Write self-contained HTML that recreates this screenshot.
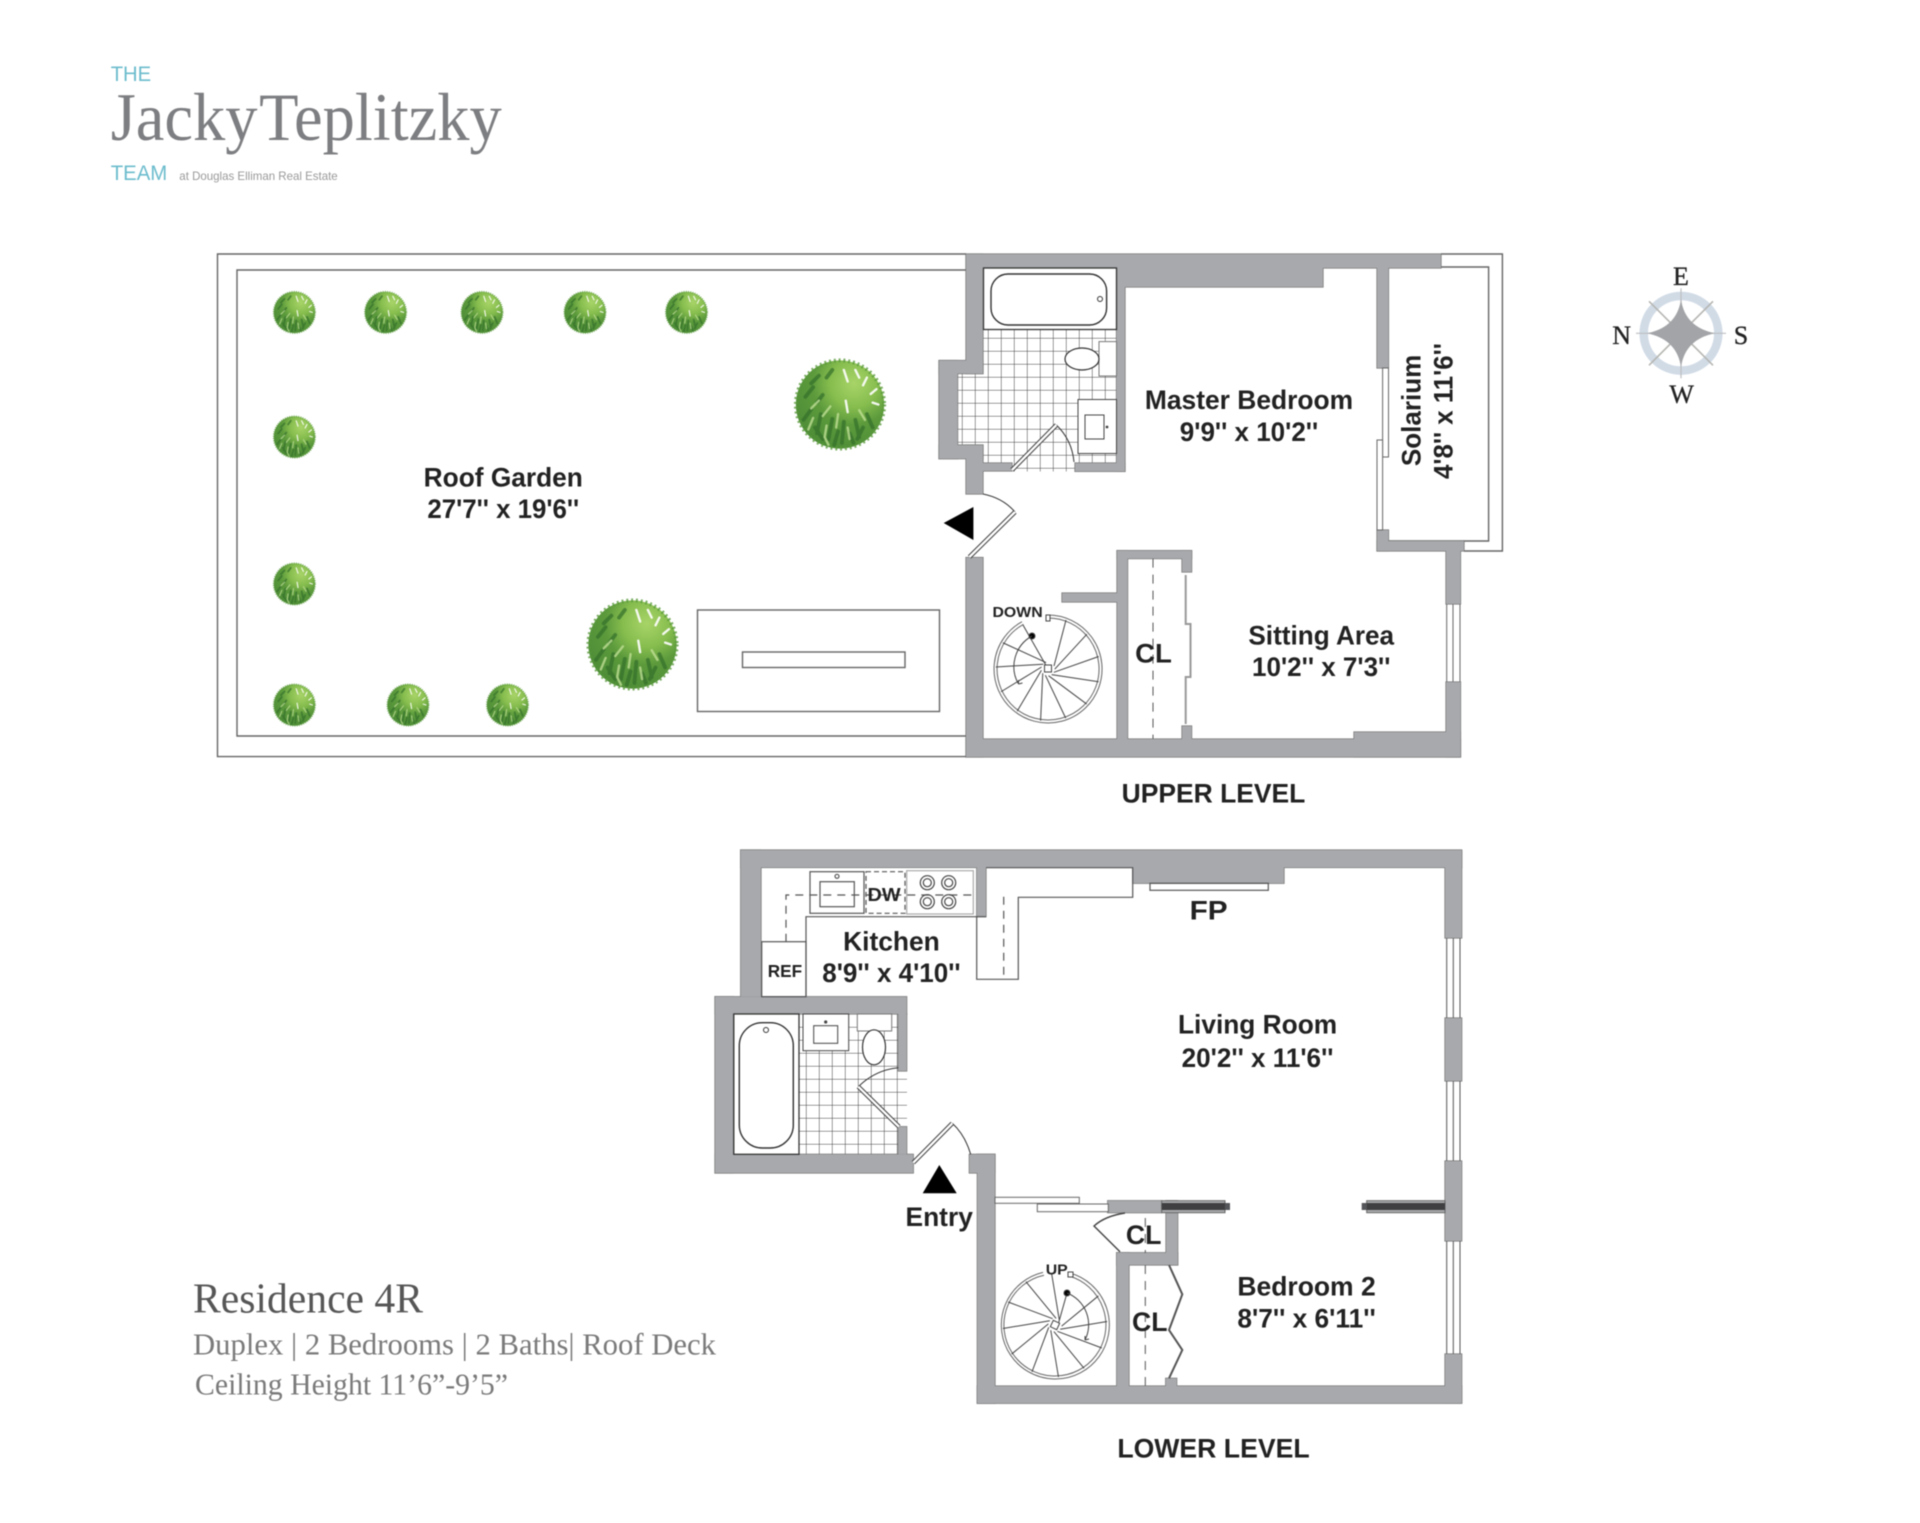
<!DOCTYPE html>
<html lang="en"><head><meta charset="utf-8"><title>Residence 4R Floor Plan</title>
<style>
html,body{margin:0;padding:0;background:#fff}
svg{display:block;filter:blur(.45px)}
.t{font-family:"Liberation Sans",Arial,sans-serif;font-weight:bold;fill:#222;text-anchor:middle}
.s{font-family:"Liberation Serif",serif}
</style></head><body>
<svg xmlns="http://www.w3.org/2000/svg" width="1920" height="1523" viewBox="0 0 1920 1523">
<defs>
<radialGradient id="tg" cx="0.66" cy="0.26" r="0.85">
<stop offset="0" stop-color="#a8d468"/><stop offset="0.32" stop-color="#86bd4e"/><stop offset="0.55" stop-color="#5c9a3c"/><stop offset="1" stop-color="#4a8a35"/>
</radialGradient>
<pattern id="tile" width="13" height="13" patternUnits="userSpaceOnUse">
<path d="M0 0H13M0 0V13" stroke="#444" stroke-width="1.05" fill="none"/>
</pattern>
<g id="tree">
<circle r="46" fill="url(#tg)"/>
<circle r="46" fill="none" stroke="#5a9a3c" stroke-width="4" stroke-dasharray="2 3" opacity=".8"/>
<g stroke="#34702b" stroke-width="4" stroke-linecap="round" opacity=".7">
<path d="M-30 5L-38 16M-20 10L-24 30M-8 15L-12 36M4 18L2 40M16 16L20 34M28 10L34 24M-36 -8L-28 -18M-30 -22L-22 -30M-18 -10L-24 -2M-26 24L-18 36M10 30L14 40M-2 28L-6 42M24 24L18 36M-14 -28L-8 -36"/>
</g>
<g stroke="#c5e39a" stroke-width="2.5" stroke-linecap="round" opacity=".75">
<path d="M-28 14L-33 26M-14 22L-16 34M-2 10L-4 24M8 24L10 36M20 6L26 16M-22 -4L-30 4M-10 2L-18 12M-16 34L-12 42"/>
</g>
<g stroke="#fff" stroke-width="2.5" stroke-linecap="round" opacity=".9">
<path d="M4 -36L8 -24M16 -36L20 -28M28 -28L24 -20M38 -16L32 -11M40 0L34 -2M6 -4L8 8"/>
</g>
</g>
<g id="w1">
<rect x="966" y="254" width="475" height="14"/>
<rect x="1116.5" y="268" width="206.5" height="19"/>
<rect x="966" y="254" width="17" height="119.6"/>
<rect x="939" y="360.5" width="44" height="13.1"/>
<rect x="939" y="360.5" width="18.6" height="98.2"/>
<rect x="939" y="445" width="44" height="13.7"/>
<rect x="966" y="445" width="17" height="49"/>
<rect x="966" y="557.5" width="17" height="199.5"/>
<rect x="966" y="739" width="494.5" height="18"/>
<rect x="1354" y="732" width="106.5" height="25"/>
<rect x="1446" y="551" width="14.5" height="53"/>
<rect x="1446" y="682" width="14.5" height="75"/>
<rect x="1377" y="268" width="11.5" height="100"/>
<rect x="1377" y="530" width="11.5" height="21"/>
<rect x="1377" y="541" width="87" height="10"/>
<rect x="1116.5" y="287" width="8.5" height="184.4"/>
<rect x="1075" y="463" width="50" height="8.4"/>
<rect x="983" y="463" width="29" height="8"/>
<rect x="1117" y="550.6" width="10.6" height="188.4"/>
<rect x="1117" y="550.6" width="74.6" height="8"/>
<rect x="1182" y="550.6" width="9.6" height="21.4"/>
<rect x="1182" y="726" width="9.6" height="13"/>
<rect x="1062" y="593" width="55" height="9"/>
</g>
<g id="w2">
<rect x="740.7" y="850" width="721" height="17.5"/>
<rect x="740.7" y="850" width="20.3" height="146.7"/>
<rect x="1132.7" y="867" width="151.3" height="16.3"/>
<rect x="976.7" y="867" width="9.3" height="49.7"/>
<rect x="715" y="996.7" width="191.7" height="17.3"/>
<rect x="715" y="996.7" width="18.3" height="176.3"/>
<rect x="715" y="1154.3" width="198.3" height="18.7"/>
<rect x="898.3" y="1014" width="8.4" height="57"/>
<rect x="898.3" y="1126.7" width="8.4" height="27.6"/>
<rect x="969.3" y="1154.3" width="25.7" height="18.7"/>
<rect x="977.3" y="1154.3" width="17.7" height="249"/>
<rect x="977.3" y="1386" width="484.4" height="17.3"/>
<rect x="1445" y="851" width="16.7" height="87"/>
<rect x="1445" y="1018" width="16.7" height="63"/>
<rect x="1445" y="1161" width="16.7" height="80"/>
<rect x="1445" y="1354" width="16.7" height="49"/>
<rect x="1107.7" y="1200.7" width="54" height="12"/>
<rect x="1166" y="1200.7" width="11.7" height="64.3"/>
<rect x="1116.7" y="1252.7" width="61" height="12.3"/>
<rect x="1116.7" y="1252.7" width="12.3" height="133.3"/>
<rect x="1165.7" y="1378.3" width="11" height="7.7"/>
</g>
<g id="spoke"><line x1="6" y1="-3" x2="18" y2="-49" /></g>
</defs>

<rect width="1920" height="1523" fill="#fff"/>

<!-- logo -->
<text x="110.7" y="81" font-family="Liberation Sans" font-size="21" fill="#6cbccd" textLength="40.5" lengthAdjust="spacingAndGlyphs">THE</text>
<text class="s" x="110.7" y="140" font-size="68" fill="#7d7e81" style="word-spacing:-14px" textLength="391" lengthAdjust="spacingAndGlyphs">Jacky Teplitzky</text>
<text x="110.7" y="180" font-family="Liberation Sans" font-size="21" fill="#6cbccd" textLength="56.6" lengthAdjust="spacingAndGlyphs">TEAM</text>
<text x="179.3" y="180" font-family="Liberation Sans" font-size="12" fill="#999" textLength="158.4" lengthAdjust="spacingAndGlyphs">at Douglas Elliman Real Estate</text>

<!-- compass -->
<g transform="translate(1681,333.3)">
<circle r="37.3" fill="none" stroke="#d1dbe6" stroke-width="8.5"/>
<g stroke="#b5b6b2" stroke-width="1.6"><line x1="-32" y1="-32" x2="32" y2="32"/><line x1="-32" y1="32" x2="32" y2="-32"/></g>
<g stroke="#bbbec1" stroke-width="1.2"><line x1="-45" y1="0" x2="45" y2="0"/><line x1="0" y1="-45" x2="0" y2="45"/></g>
<path d="M0 -34Q4 -6 34 0Q4 6 0 34Q-4 6 -34 0Q-4 -6 0 -34Z" fill="#a2a4a7"/>
</g>
<g class="s" font-size="26" fill="#222" text-anchor="middle" stroke="#222" stroke-width=".3">
<text x="1681" y="285">E</text><text x="1621.7" y="344">N</text><text x="1741" y="344">S</text><text x="1681.7" y="403">W</text>
</g>

<!-- ROOF GARDEN -->
<g fill="none" stroke="#666" stroke-width="1.4">
<path d="M966 254H217.5V756.6H966"/>
<path d="M966 270H237V736H966"/>
<rect x="697.5" y="610" width="242" height="101.5"/>
<rect x="742.5" y="652" width="162.5" height="15.5"/>
<path d="M1441 254H1502.4V551H1464"/>
<path d="M1388.5 267H1488.6V541H1388.5"/>
</g>
<g>
<use href="#tree" transform="translate(294.4,312.4) scale(.45)"/>
<use href="#tree" transform="translate(385.6,312.4) scale(.45)"/>
<use href="#tree" transform="translate(482,312.4) scale(.45)"/>
<use href="#tree" transform="translate(585,312.4) scale(.45)"/>
<use href="#tree" transform="translate(686.5,312.4) scale(.45)"/>
<use href="#tree" transform="translate(294.4,437) scale(.45)"/>
<use href="#tree" transform="translate(294.4,584) scale(.45)"/>
<use href="#tree" transform="translate(294.4,705) scale(.45)"/>
<use href="#tree" transform="translate(408,705) scale(.45)"/>
<use href="#tree" transform="translate(507.5,705) scale(.45)"/>
<use href="#tree" transform="translate(840,404.5) scale(.96)"/>
<use href="#tree" transform="translate(632.5,644.5) scale(.96)"/>
</g>

<!-- UPPER tiles -->
<rect x="983" y="329.5" width="133.5" height="142" fill="url(#tile)"/>
<rect x="957.6" y="373.6" width="26" height="71.4" fill="url(#tile)"/>
<!-- UPPER walls -->
<use href="#w1" fill="#a7a9ac" stroke="#666" stroke-width="1.1"/>
<use href="#w1" fill="#a7a9ac" stroke="none"/>
<!-- tub -->
<rect x="983.5" y="268" width="133" height="61.5" fill="#fff" stroke="#333" stroke-width="1.3"/>
<rect x="991" y="274" width="115.6" height="51" rx="17" fill="#fff" stroke="#333" stroke-width="1.4"/>
<circle cx="1100" cy="299" r="2.5" fill="#fff" stroke="#333"/>
<!-- toilet/vanity -->
<rect x="1099" y="341.6" width="17.5" height="34.4" fill="#fff" stroke="#777"/>
<ellipse cx="1082" cy="359" rx="17" ry="11" fill="#fff" stroke="#333" stroke-width="1.2"/>
<rect x="1078" y="399.5" width="38.5" height="54" fill="#fff" stroke="#444"/>
<rect x="1085" y="415" width="19" height="24" fill="#fff" stroke="#444"/>
<circle cx="1107" cy="427" r="1.4" fill="#444"/>
<!-- bath door -->
<path d="M1056.4 425Q1072 440 1074 462" fill="none" stroke="#333"/>
<path d="M1012 470L1056.4 425" stroke="#444" stroke-width="4.5"/><path d="M1012 470L1056.4 425" stroke="#fff" stroke-width="2.4"/>
<!-- main door -->
<path d="M983 494Q1003 498 1015 512" fill="none" stroke="#333"/>
<path d="M969.4 557L1015 512" stroke="#444" stroke-width="4.5"/><path d="M969.4 557L1015 512" stroke="#fff" stroke-width="2.4"/>
<polygon points="943.7,523 973.4,507 973.4,540" fill="#000"/>
<!-- solarium windows -->
<g fill="#fff" stroke="#666" stroke-width="1">
<rect x="1382.6" y="368" width="5.9" height="89"/>
<rect x="1377" y="440" width="5.6" height="90"/>
<path d="M1446.7 604V682M1453 604V682M1460 604V682" fill="none"/>
</g>
<!-- closet -->
<path d="M1153 558.6V739" stroke="#555" stroke-dasharray="9 7" fill="none"/>
<g stroke="#999" stroke-width="2" fill="none"><path d="M1185.7 575V624H1190.5V677H1185.7V724"/></g>
<!-- upper spiral -->
<g transform="translate(1048,669)" fill="none" stroke="#444" stroke-width="1">
<path d="M0 -54A54 54 0 1 1 -26 -47.3M0 -51A51 51 0 1 1 -24.5 -44.7" stroke="#666"/>
<use href="#spoke"/>
<use href="#spoke" transform="rotate(28)"/><use href="#spoke" transform="rotate(56)"/><use href="#spoke" transform="rotate(84)"/>
<use href="#spoke" transform="rotate(112)"/><use href="#spoke" transform="rotate(140)"/><use href="#spoke" transform="rotate(168)"/>
<use href="#spoke" transform="rotate(196)"/><use href="#spoke" transform="rotate(224)"/><use href="#spoke" transform="rotate(252)"/><use href="#spoke" transform="rotate(280)"/>
<line x1="0" y1="0" x2="-25" y2="-44"/>
<rect x="-3.5" y="-4" width="7" height="7" fill="#fff"/>
<circle cx="-16" cy="-33" r="3" fill="#000"/>
<path d="M-16 -33A35 35 0 0 0 -29.5 15"/>
<path d="M-29.5 15l4 -1M-29.5 15l0 -4"/>
<rect x="-2" y="-54" width="4" height="6" fill="#fff"/>
</g>

<!-- LOWER -->
<rect x="799" y="1014" width="99.3" height="140.3" fill="url(#tile)"/>
<rect x="898" y="1071" width="9" height="56" fill="url(#tile)"/>
<use href="#w2" fill="#a7a9ac" stroke="#666" stroke-width="1.1"/>
<use href="#w2" fill="#a7a9ac" stroke="none"/>
<!-- kitchen -->
<g fill="none" stroke="#555" stroke-width="1.2">
<path d="M986 867.7H1132.7V897.3H1018.3V979.3H976.7V916.7"/>
<path d="M986 916.7H806V996.7"/>
<rect x="761.7" y="941.7" width="44.3" height="55"/>
<rect x="810" y="871.7" width="54" height="41.6"/>
<rect x="820" y="881.7" width="34.3" height="25"/>
<circle cx="837" cy="876.3" r="2"/>
<rect x="906.7" y="870.7" width="66.6" height="43.3" stroke="#aaa"/>
<rect x="866" y="871.7" width="39" height="41.6" stroke-dasharray="5 3"/>
<path d="M786 941.7V895H976.7" stroke-dasharray="8 6"/>
<path d="M1003.7 896.7V979" stroke-dasharray="8 6"/>
<g stroke="#444"><circle cx="927.3" cy="882.7" r="7"/><circle cx="948.7" cy="882.7" r="7"/><circle cx="927.3" cy="901.7" r="7"/><circle cx="948.7" cy="901.7" r="7"/>
<circle cx="927.3" cy="882.7" r="4"/><circle cx="948.7" cy="882.7" r="4"/><circle cx="927.3" cy="901.7" r="4"/><circle cx="948.7" cy="901.7" r="4"/></g>
<rect x="1150" y="883.3" width="118.3" height="7"/>
</g>
<!-- lower bath -->
<rect x="733.8" y="1014" width="65.2" height="140.3" fill="#fff" stroke="#333" stroke-width="1.3"/>
<rect x="739.3" y="1022.7" width="54" height="125.3" rx="23" fill="#fff" stroke="#333" stroke-width="1.4"/>
<circle cx="766" cy="1030" r="2.5" fill="#fff" stroke="#333"/>
<rect x="803" y="1014" width="45.7" height="36.7" fill="#fff" stroke="#444"/>
<rect x="813.7" y="1025.7" width="24" height="17.6" fill="#fff" stroke="#444"/>
<circle cx="825.7" cy="1022" r="1.6" fill="#444"/>
<rect x="857.3" y="1014" width="34.4" height="17" fill="#fff" stroke="#777"/>
<ellipse cx="874" cy="1047.3" rx="11.5" ry="17.5" fill="#fff" stroke="#333" stroke-width="1.2"/>
<path d="M858.3 1086.7Q875 1070 898.3 1067.7" fill="none" stroke="#333"/>
<path d="M899 1126.7L858.3 1086.7" stroke="#444" stroke-width="4.5"/><path d="M899 1126.7L858.3 1086.7" stroke="#fff" stroke-width="2.4"/>
<!-- entry door -->
<path d="M952.3 1123.3Q965 1135 970.7 1154.3" fill="none" stroke="#333"/>
<path d="M913.3 1162.7L952.3 1123.3" stroke="#444" stroke-width="4.5"/><path d="M913.3 1162.7L952.3 1123.3" stroke="#fff" stroke-width="2.4"/>
<polygon points="922.7,1193.3 956.7,1193.3 939.3,1165" fill="#000"/>
<!-- right windows -->
<path d="M1446.7 938V1018M1453.3 938V1018M1460 938V1018M1446.7 1081V1161M1453.3 1081V1161M1460 1081V1161M1446.7 1241V1354M1453.3 1241V1354M1460 1241V1354" fill="none" stroke="#555"/>
<!-- sliding doors -->
<g fill="#fff" stroke="#666">
<rect x="995" y="1197.3" width="84.3" height="6"/>
<rect x="1037.3" y="1204" width="71" height="7.7"/>
</g>
<!-- dark bars -->
<rect x="1161.7" y="1200.7" width="63.3" height="12" fill="#a7a9ac" stroke="#666"/>
<rect x="1161.7" y="1203" width="63.3" height="7" fill="#3f3f41"/>
<rect x="1225" y="1203" width="5" height="7" fill="#55565a"/>
<rect x="1366.7" y="1200.7" width="78.3" height="12" fill="#a7a9ac" stroke="#666"/>
<rect x="1366.7" y="1203" width="78.3" height="7" fill="#3f3f41"/>
<rect x="1361.7" y="1203" width="5" height="7" fill="#55565a"/>
<!-- closets -->
<path d="M1125 1213Q1105 1216 1094 1226L1120 1251.7" fill="none" stroke="#444" stroke-width="1.4"/>
<path d="M1145.3 1218V1253M1145.3 1265V1386" fill="none" stroke="#555" stroke-dasharray="9 7"/>
<path d="M1169 1265L1182.3 1294.3L1169 1330L1182.3 1350L1169 1378.3" fill="none" stroke="#555" stroke-width="2"/>
<!-- lower spiral -->
<g transform="translate(1055,1325)" fill="none" stroke="#444" stroke-width="1">
<path d="M15 -52A54 54 0 1 1 -12 -52.6M14 -49A51 51 0 1 1 -11 -49.8" stroke="#666"/>
<use href="#spoke" transform="rotate(36)"/><use href="#spoke" transform="rotate(66)"/>
<use href="#spoke" transform="rotate(96)"/><use href="#spoke" transform="rotate(126)"/><use href="#spoke" transform="rotate(156)"/>
<use href="#spoke" transform="rotate(186)"/><use href="#spoke" transform="rotate(216)"/><use href="#spoke" transform="rotate(246)"/>
<use href="#spoke" transform="rotate(276)"/><use href="#spoke" transform="rotate(306)"/><use href="#spoke" transform="rotate(336)"/>
<line x1="3" y1="0" x2="12" y2="-32"/>
<rect x="-3.5" y="-3.5" width="7" height="7" fill="#fff" transform="rotate(25)"/>
<circle cx="12" cy="-32" r="3" fill="#000"/>
<path d="M12 -32A34 34 0 0 1 30 15"/>
<path d="M30 15l4 -1M30 15l0 -4"/>
<rect x="13" y="-53" width="5" height="5" fill="#fff"/>
</g>

<!-- labels -->
<text class="s" x="193" y="1312.5" font-size="42" fill="#565656" textLength="230" lengthAdjust="spacingAndGlyphs">Residence 4R</text>
<text class="s" x="193" y="1354.5" font-size="31" fill="#7a7a7a" textLength="523" lengthAdjust="spacingAndGlyphs">Duplex | 2 Bedrooms | 2 Baths| Roof Deck</text>
<text class="s" x="195" y="1394.5" font-size="31" fill="#7a7a7a" textLength="313" lengthAdjust="spacingAndGlyphs">Ceiling Height 11’6”-9’5”</text>

<g transform="scale(1.2245) translate(0,-0.8)">
<g font-size="22">
<text class="t" x="411" y="398" textLength="130" lengthAdjust="spacingAndGlyphs">Roof Garden</text>
<text class="t" x="411" y="424" textLength="124" lengthAdjust="spacingAndGlyphs">27'7'' x 19'6''</text>
<text class="t" x="1020" y="335" textLength="170" lengthAdjust="spacingAndGlyphs">Master Bedroom</text>
<text class="t" x="1020" y="361" textLength="113" lengthAdjust="spacingAndGlyphs">9'9'' x 10'2''</text>
<text class="t" x="1079" y="527" textLength="119" lengthAdjust="spacingAndGlyphs">Sitting Area</text>
<text class="t" x="1079" y="553" textLength="113" lengthAdjust="spacingAndGlyphs">10'2'' x 7'3''</text>
<text class="t" x="942" y="542" textLength="30" lengthAdjust="spacingAndGlyphs">CL</text>
<text class="t" transform="translate(1160,336) rotate(-90)" textLength="91" lengthAdjust="spacingAndGlyphs">Solarium</text>
<text class="t" transform="translate(1186,336.5) rotate(-90)" textLength="111" lengthAdjust="spacingAndGlyphs">4'8'' x 11'6''</text>
<text class="t" x="991" y="656" textLength="150" lengthAdjust="spacingAndGlyphs">UPPER LEVEL</text>
<text class="t" x="991" y="1191" textLength="157" lengthAdjust="spacingAndGlyphs">LOWER LEVEL</text>
<text class="t" x="987" y="751.8" textLength="31" lengthAdjust="spacingAndGlyphs">FP</text>
<text class="t" x="728" y="777" textLength="79" lengthAdjust="spacingAndGlyphs">Kitchen</text>
<text class="t" x="728" y="802.8" textLength="113" lengthAdjust="spacingAndGlyphs">8'9'' x 4'10''</text>
<text class="t" x="1027" y="845" textLength="130" lengthAdjust="spacingAndGlyphs">Living Room</text>
<text class="t" x="1027" y="872" textLength="124" lengthAdjust="spacingAndGlyphs">20'2'' x 11'6''</text>
<text class="t" x="767" y="1002" textLength="55" lengthAdjust="spacingAndGlyphs">Entry</text>
<text class="t" x="934" y="1016.8" textLength="29" lengthAdjust="spacingAndGlyphs">CL</text>
<text class="t" x="939" y="1087.8" textLength="29" lengthAdjust="spacingAndGlyphs">CL</text>
<text class="t" x="1067" y="1058.8" textLength="113" lengthAdjust="spacingAndGlyphs">Bedroom 2</text>
<text class="t" x="1067" y="1084.8" textLength="113" lengthAdjust="spacingAndGlyphs">8'7'' x 6'11''</text>
</g>
<text class="t" x="641" y="798.8" font-size="14" textLength="28" lengthAdjust="spacingAndGlyphs">REF</text>
<text class="t" x="722" y="736.8" font-size="15" textLength="27" lengthAdjust="spacingAndGlyphs">DW</text>
<text class="t" x="831" y="504.8" font-size="12" textLength="41" lengthAdjust="spacingAndGlyphs">DOWN</text>
<text class="t" x="863" y="1041.8" font-size="12" textLength="18" lengthAdjust="spacingAndGlyphs">UP</text>
</g>
</svg>
</body></html>
